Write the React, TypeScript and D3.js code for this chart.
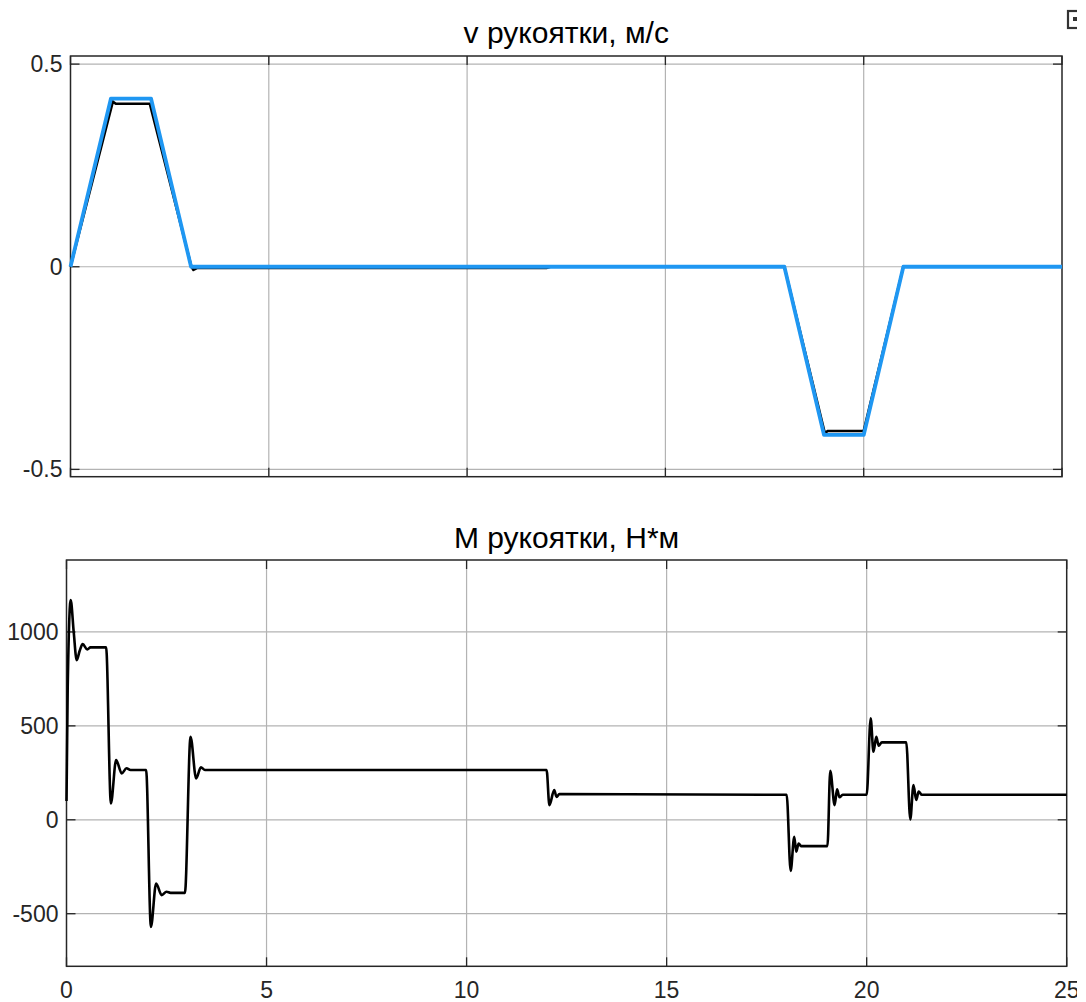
import { useEffect, useRef } from "react";
import * as d3 from "d3";

// v рукоятки: задание (синяя) и факт (чёрная)
const vRefT = [0, 1.02, 2.03, 3.04, 18.0, 19.0, 20.0, 21.0, 25];
const vRefV = [0, 0.415, 0.415, 0, 0, -0.415, -0.415, 0, 0];

const vT = [0, 1.07, 1.1, 1.15, 2.0, 3.05, 3.1, 3.2, 12.0, 12.1, 18.0, 19.02, 19.1, 20.0, 21.0, 25];
const vV = [0, 0.408, 0.405, 0.402, 0.402, 0, -0.008, -0.003, -0.003, 0, 0, -0.41, -0.405, -0.405, 0, 0];

// M рукоятки
const mT = [
  0, 0.03, 0.105, 0.18, 0.255, 0.33, 0.405, 0.52, 0.6, 0.99,
  1.11, 1.24, 1.38, 1.5, 1.6, 1.99,
  2.11, 2.24, 2.38, 2.5, 2.6, 2.96,
  3.1, 3.24, 3.36, 3.46, 12.0,
  12.07, 12.19, 12.25, 12.32, 18.0,
  18.1, 18.19, 18.24, 18.3, 18.36, 19.02,
  19.09, 19.2, 19.26, 19.32, 19.4, 20.0,
  20.1, 20.17, 20.24, 20.3, 20.38, 20.99,
  21.09, 21.17, 21.24, 21.3, 21.38, 25,
];
const mV = [
  100, 700, 1170, 1000, 850, 900, 935, 907, 918, 918,
  87, 318, 247, 274, 265, 265,
  -570, -339, -401, -383, -389, -389,
  442, 220, 279, 265, 265,
  78, 158, 122, 137, 133,
  -272, -90, -170, -126, -140, -140,
  261, 78, 162, 120, 133, 133,
  540, 362, 442, 395, 412, 412,
  2, 185, 105, 150, 133, 133,
];

const xTicks = [0, 5, 10, 15, 20, 25];
const vTicks = [-0.5, 0, 0.5];
const mTicks = [-500, 0, 500, 1000];

const W = 1086;
const H = 1002;
const FONT = "'Liberation Sans', Arial, Helvetica, sans-serif";
const AX = "#262626";
const GRID = "#b3b3b3";

const App = () => {
  const container = useRef<SVGSVGElement>(null);

  useEffect(() => {
    const svg = d3.select(container.current);
    svg.selectAll("*").remove();

    const drawPanel = (opts: {
      left: number; right: number; top: number; bottom: number;
      yDomain: [number, number]; yTicks: number[]; title: string;
      titleY: number; xLabels: boolean;
    }) => {
      const x = d3.scaleLinear().domain([0, 25]).range([opts.left, opts.right]);
      const y = d3.scaleLinear().domain(opts.yDomain).range([opts.bottom, opts.top]);
      const g = svg.append("g");

      // grid
      g.selectAll("line.gx")
        .data(xTicks.filter((t) => t > 0 && t < 25))
        .join("line")
        .attr("x1", (d) => x(d)).attr("x2", (d) => x(d))
        .attr("y1", opts.top).attr("y2", opts.bottom)
        .attr("stroke", GRID).attr("stroke-width", 1.2);
      g.selectAll("line.gy")
        .data(opts.yTicks)
        .join("line")
        .attr("x1", opts.left).attr("x2", opts.right)
        .attr("y1", (d) => y(d)).attr("y2", (d) => y(d))
        .attr("stroke", GRID).attr("stroke-width", 1.2);

      // ticks on all four sides, pointing inward
      const tl = 9;
      xTicks.forEach((t) => {
        g.append("line").attr("x1", x(t)).attr("x2", x(t))
          .attr("y1", opts.bottom).attr("y2", opts.bottom - tl)
          .attr("stroke", AX).attr("stroke-width", 1.3);
        g.append("line").attr("x1", x(t)).attr("x2", x(t))
          .attr("y1", opts.top).attr("y2", opts.top + tl)
          .attr("stroke", AX).attr("stroke-width", 1.3);
      });
      opts.yTicks.forEach((t) => {
        g.append("line").attr("x1", opts.left).attr("x2", opts.left + tl)
          .attr("y1", y(t)).attr("y2", y(t))
          .attr("stroke", AX).attr("stroke-width", 1.3);
        g.append("line").attr("x1", opts.right).attr("x2", opts.right - tl)
          .attr("y1", y(t)).attr("y2", y(t))
          .attr("stroke", AX).attr("stroke-width", 1.3);
      });

      // box
      g.append("rect")
        .attr("x", opts.left).attr("y", opts.top)
        .attr("width", opts.right - opts.left).attr("height", opts.bottom - opts.top)
        .attr("fill", "none").attr("stroke", AX).attr("stroke-width", 1.5);

      // y labels
      g.selectAll("text.yl")
        .data(opts.yTicks)
        .join("text")
        .attr("x", opts.left - 8)
        .attr("y", (d) => y(d))
        .attr("dy", "0.35em")
        .attr("text-anchor", "end")
        .style("font-family", FONT).style("font-size", "23px").style("fill", AX)
        .text((d) => String(d));

      if (opts.xLabels) {
        g.selectAll("text.xl")
          .data(xTicks)
          .join("text")
          .attr("x", (d) => x(d))
          .attr("y", opts.bottom + 32)
          .attr("text-anchor", "middle")
          .style("font-family", FONT).style("font-size", "23px").style("fill", AX)
          .text((d) => String(d));
      }

      g.append("text")
        .attr("x", (opts.left + opts.right) / 2)
        .attr("y", opts.titleY)
        .attr("text-anchor", "middle")
        .style("font-family", FONT).style("font-size", "30px").style("fill", "#000")
        .text(opts.title);

      return { x, y, g };
    };

    const top = drawPanel({
      left: 70.5, right: 1062, top: 56, bottom: 476.7,
      yDomain: [-0.518, 0.52], yTicks: vTicks,
      title: "v рукоятки, м/с", titleY: 43, xLabels: false,
    });
    const line1 = d3.line<number>()
      .x((d, i) => top.x(vT[i]))
      .y((d) => top.y(d));
    const line1r = d3.line<number>()
      .x((d, i) => top.x(vRefT[i]))
      .y((d) => top.y(d));
    top.g.append("path").attr("d", line1(vV) ?? "")
      .attr("fill", "none").attr("stroke", "#000").attr("stroke-width", 2.5)
      .attr("stroke-linejoin", "round");
    top.g.append("path").attr("d", line1r(vRefV) ?? "")
      .attr("fill", "none").attr("stroke", "#1f97f2").attr("stroke-width", 3.8)
      .attr("stroke-linejoin", "round");

    const bot = drawPanel({
      left: 66.5, right: 1066.7, top: 560, bottom: 966.3,
      yDomain: [-780, 1383], yTicks: mTicks,
      title: "M рукоятки, Н*м", titleY: 548, xLabels: true,
    });
    const line2 = d3.line<number>()
      .x((d, i) => bot.x(mT[i]))
      .y((d) => bot.y(d))
      .curve(d3.curveMonotoneX);
    bot.g.append("path").attr("d", line2(mV) ?? "")
      .attr("fill", "none").attr("stroke", "#000").attr("stroke-width", 2.6)
      .attr("stroke-linejoin", "round");

    // export icon (partly cut at the right edge)
    svg.append("rect").attr("x", 1068).attr("y", 11).attr("width", 14).attr("height", 17)
      .attr("fill", "none").attr("stroke", "#333").attr("stroke-width", 2.2);
    svg.append("rect").attr("x", 1073).attr("y", 17).attr("width", 4).attr("height", 4)
      .attr("fill", "#333");

    // image is clipped at the right
    svg.append("rect").attr("x", 1077).attr("y", 0).attr("width", 9).attr("height", H)
      .attr("fill", "#fff");
  }, []);

  return (
    <div style={{ position: "absolute", left: 0, top: 0 }}>
      <svg ref={container} width={W} height={H} style={{ display: "block", background: "#fff" }} />
    </div>
  );
};

export default App;
